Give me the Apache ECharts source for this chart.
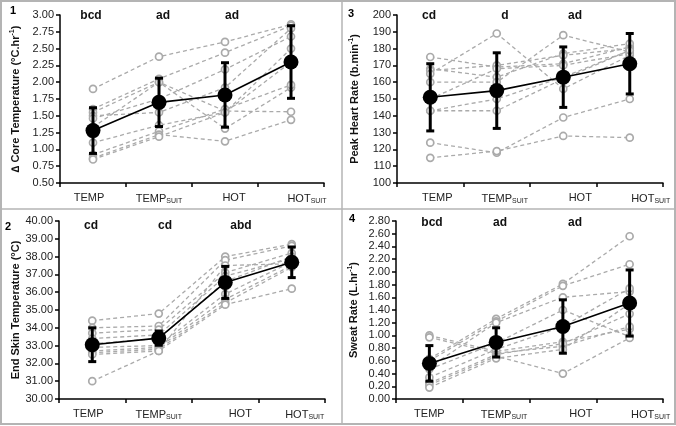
<!DOCTYPE html>
<html><head><meta charset="utf-8">
<script src="https://cdn.jsdelivr.net/npm/echarts@6/dist/echarts.min.js"></script>
<style>html,body{margin:0;padding:0;background:#fff}#c{width:676px;height:426px}</style>
</head><body><div id="c"></div>
<script>
const categories = ['TEMP', 'TEMP_SUIT', 'HOT', 'HOT_SUIT'];

// Panel 1: change in core temperature (°C.hr-1)
const coreParticipants = [
  [1.90, 2.38, 2.60, 2.86],
  [1.60, 2.05, 2.44, 2.84],
  [1.55, 2.00, 1.57, 1.56],
  [1.50, 1.55, 1.92, 2.80],
  [1.46, 1.75, 2.19, 2.68],
  [1.33, 2.00, 1.31, 1.92],
  [1.10, 1.36, 1.55, 2.50],
  [0.92, 1.27, 1.60, 1.96],
  [0.87, 1.22, 1.12, 1.44],
  [0.85, 1.19, 1.55, 2.30]
];
const coreMean = [1.28, 1.70, 1.81, 2.30];
const coreSD = [0.34, 0.36, 0.48, 0.54];
const coreLetters = ['bcd', 'ad', 'ad'];

// Panel 3: peak heart rate (b.min-1)
const hrParticipants = [
  [175, 169, 171, 181],
  [168, 163, 177, 183],
  [167, 170, 176, 180],
  [165, 189, 156, 176],
  [160, 160, 188, 178],
  [150, 168, 170, 177],
  [143, 150, 163, 179],
  [143, 143, 162, 179],
  [124, 118, 139, 150],
  [115, 119, 128, 127]
];
const hrMean = [151, 155, 163, 171];
const hrSD = [20, 22.5, 18, 18];
const hrLetters = ['cd', 'd', 'ad'];

// Panel 2: end skin temperature (°C)
const skinParticipants = [
  [34.4, 34.8, 38.0, 38.7],
  [34.0, 34.1, 37.8, 38.6],
  [33.7, 33.9, 37.1, 38.2],
  [33.4, 33.6, 36.9, 37.9],
  [33.1, 33.4, 36.6, 38.0],
  [32.9, 33.0, 35.9, 37.7],
  [32.7, 32.9, 35.6, 37.5],
  [32.6, 32.8, 35.4, 37.4],
  [32.5, 32.7, 35.3, 36.2],
  [31.0, 32.7, 37.5, 37.6]
];
const skinMean = [33.05, 33.42, 36.55, 37.68];
const skinSD = [0.95, 0.40, 0.90, 0.86];
const skinLetters = ['cd', 'cd', 'abd'];

// Panel 4: sweat rate (L.hr-1)
const sweatParticipants = [
  [1.00, 0.75, 0.90, 1.10],
  [0.97, 0.72, 0.83, 1.14],
  [0.63, 1.26, 1.81, 2.56],
  [0.60, 1.22, 1.78, 2.12],
  [0.50, 1.20, 1.60, 1.69],
  [0.47, 0.88, 1.40, 0.98],
  [0.34, 0.78, 1.14, 1.74],
  [0.25, 0.70, 0.87, 1.34],
  [0.22, 0.67, 0.40, 0.96],
  [0.18, 0.64, 0.78, 1.50]
];
const sweatMean = [0.56, 0.89, 1.14, 1.51];
const sweatSD = [0.28, 0.23, 0.42, 0.52];
const sweatLetters = ['bcd', 'ad', 'ad'];

const FONT = '"Liberation Sans", Arial, sans-serif';

const panels = [
  {num:'1', parts:coreParticipants, mean:coreMean, sd:coreSD, letters:coreLetters,
   name:'\u2206 Core Temperature (\u00B0C.hr{sup|-1})', min:0.5, max:3.0, interval:0.25, dec:2,
   grid:{left:60, top:15, width:264, height:168}, nameGap:38, shifts:[-4,0,9,16],
   numPos:[13,12], letterPos:[[91,16],[163,16],[232,16]]},
  {num:'3', parts:hrParticipants, mean:hrMean, sd:hrSD, letters:hrLetters,
   name:'Peak Heart Rate (b.min{sup|-1})', min:100, max:200, interval:10, dec:0,
   grid:{left:397, top:15, width:266, height:168}, nameGap:36, shifts:[7,8,17,21],
   numPos:[351,15], letterPos:[[429,16],[505,16],[575,16]]},
  {num:'2', parts:skinParticipants, mean:skinMean, sd:skinSD, letters:skinLetters,
   name:'End Skin Temperature (\u00B0C)', min:30, max:40, interval:1, dec:2,
   grid:{left:59, top:221, width:266, height:178}, nameGap:38, shifts:[-4,0,15,13],
   numPos:[8,228], letterPos:[[91,226],[165,226],[241,226]]},
  {num:'4', parts:sweatParticipants, mean:sweatMean, sd:sweatSD, letters:sweatLetters,
   name:'Sweat Rate (L.hr{sup|-1})', min:0, max:2.8, interval:0.2, dec:2,
   grid:{left:396, top:221, width:267, height:178}, nameGap:36, shifts:[0,8,18,21],
   numPos:[352,220], letterPos:[[432,223],[500,223],[575,223]]}
];

const grids = [], xAxes = [], yAxes = [], series = [], graphics = [];

panels.forEach((p, k) => {
  grids.push(Object.assign({containLabel:false}, p.grid));
  const rich = {s:{fontSize:7, fontFamily:FONT, color:'#222', padding:[6,0,0,0]}};
  p.shifts.forEach((s, i) => {
    rich['m'+i] = {fontSize:11, fontFamily:FONT, color:'#222',
      padding: s >= 0 ? [0,0,0,2*s] : [0,-2*s,0,0]};
  });
  xAxes.push({
    type:'category', gridIndex:k, data:categories, boundaryGap:true,
    axisLine:{lineStyle:{color:'#000', width:1.5}},
    axisTick:{show:true, length:4, lineStyle:{color:'#000', width:1.5}},
    axisLabel:{margin:9, interval:0, hideOverlap:false, formatter:(v, i) => {
      const [a, b] = v.split('_');
      return '{m'+i+'|'+a+'}' + (b ? '{s|'+b+'}' : '');
    }, rich:rich},
    splitLine:{show:false}
  });
  yAxes.push({
    type:'value', gridIndex:k, min:p.min, max:p.max, interval:p.interval,
    axisLine:{show:true, lineStyle:{color:'#000', width:1.5}},
    axisTick:{show:true, length:4, lineStyle:{color:'#000', width:1.5}},
    axisLabel:{fontSize:11, fontFamily:FONT, color:'#222', margin:6,
      formatter:v => v.toFixed(p.dec)},
    splitLine:{show:false},
    name:p.name, nameLocation:'middle', nameGap:p.nameGap,
    nameTextStyle:{fontSize:11, fontWeight:'bold', fontFamily:FONT, color:'#111',
      rich:{sup:{fontSize:7, fontWeight:'bold', fontFamily:FONT, color:'#111', padding:[0,0,6,0]}}}
  });
  p.parts.forEach(row => {
    series.push({
      type:'line', xAxisIndex:k, yAxisIndex:k, data:row, z:2,
      symbol:'circle', symbolSize:7, showSymbol:true,
      lineStyle:{color:'#aaaaaa', width:1.3, type:[4,3]},
      itemStyle:{color:'#fff', borderColor:'#aaaaaa', borderWidth:1.7},
      emphasis:{disabled:true}, animation:false
    });
  });
  series.push({
    type:'custom', xAxisIndex:k, yAxisIndex:k, z:5, animation:false,
    data:p.mean.map((m, i) => [i, m - p.sd[i], m + p.sd[i]]),
    encode:{x:0, y:[1,2]},
    renderItem:(params, api) => {
      const lo = api.coord([api.value(0), api.value(1)]);
      const hi = api.coord([api.value(0), api.value(2)]);
      const st = {stroke:'#000', lineWidth:3};
      const hw = 4;
      return {type:'group', children:[
        {type:'line', shape:{x1:lo[0], y1:lo[1], x2:hi[0], y2:hi[1]}, style:st},
        {type:'line', shape:{x1:hi[0]-hw, y1:hi[1], x2:hi[0]+hw, y2:hi[1]}, style:st},
        {type:'line', shape:{x1:lo[0]-hw, y1:lo[1], x2:lo[0]+hw, y2:lo[1]}, style:st}
      ]};
    }
  });
  series.push({
    type:'line', xAxisIndex:k, yAxisIndex:k, data:p.mean, z:6, animation:false,
    symbol:'circle', symbolSize:15,
    lineStyle:{color:'#000', width:1.6}, itemStyle:{color:'#000'}
  });
  graphics.push({type:'text', left:p.numPos[0]-3, top:p.numPos[1]-7,
    style:{text:p.num, font:'bold 11px '+FONT, fill:'#000'}});
  p.letters.forEach((t, i) => {
    graphics.push({type:'text', x:p.letterPos[i][0], y:p.letterPos[i][1],
      style:{text:t, font:'bold 12px '+FONT, fill:'#111', align:'center', verticalAlign:'middle'}});
  });
});

graphics.push({type:'rect', shape:{x:1, y:1, width:674, height:423},
  style:{fill:'none', stroke:'#b4b4b4', lineWidth:2}, z:-1});
graphics.push({type:'line', shape:{x1:342, y1:1, x2:342, y2:424},
  style:{stroke:'#b4b4b4', lineWidth:1.5}});
graphics.push({type:'line', shape:{x1:1, y1:209, x2:675, y2:209},
  style:{stroke:'#b4b4b4', lineWidth:1.5}});

const chart = echarts.init(document.getElementById('c'), null, {renderer:'canvas'});
chart.setOption({
  backgroundColor:'#fff', animation:false,
  grid:grids, xAxis:xAxes, yAxis:yAxes, series:series, graphic:graphics
});
</script></body></html>
